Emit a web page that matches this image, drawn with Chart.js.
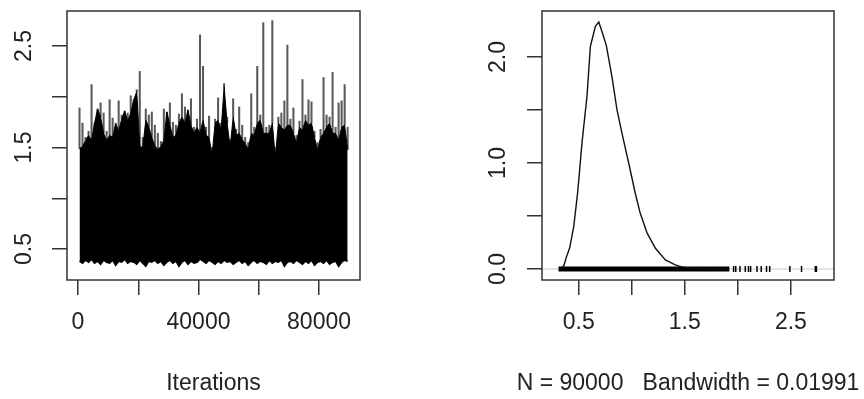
<!DOCTYPE html>
<html>
<head>
<meta charset="utf-8">
<script src="https://cdn.jsdelivr.net/npm/chart.js@4"></script>
<style>
  html, body { margin: 0; padding: 0; background: #fff; }
  .panel { position: absolute; top: 0; width: 432px; height: 399px; }
  #left { left: 0; }
  #right { left: 432px; }
</style>
</head>
<body>
<div class="panel" id="left"><canvas id="traceCanvas"></canvas></div>
<div class="panel" id="right"><canvas id="densCanvas"></canvas></div>
<script>
// trace: one bin per 1000 iterations (90 bins)
const binSize = 1000;
const traceLow = [
  0.38, 0.36, 0.39, 0.37, 0.40, 0.36, 0.38, 0.35, 0.39, 0.37,
  0.36, 0.39, 0.34, 0.38, 0.37, 0.40, 0.36, 0.38, 0.37, 0.35,
  0.39, 0.36, 0.33, 0.38, 0.37, 0.39, 0.36, 0.38, 0.34, 0.37,
  0.39, 0.36, 0.38, 0.33, 0.37, 0.39, 0.35, 0.38, 0.36, 0.37,
  0.40, 0.38, 0.36, 0.39, 0.37, 0.35, 0.38, 0.36, 0.39, 0.37,
  0.38, 0.35, 0.37, 0.39, 0.36, 0.38, 0.34, 0.37, 0.39, 0.36,
  0.38, 0.37, 0.35, 0.39, 0.36, 0.38, 0.37, 0.39, 0.33, 0.37,
  0.38, 0.36, 0.39, 0.37, 0.35, 0.38, 0.36, 0.39, 0.34, 0.37,
  0.38, 0.36, 0.39, 0.35, 0.37, 0.38, 0.33, 0.37, 0.39, 0.38
];
const traceCore = [
  1.49, 1.51, 1.57, 1.62, 1.57, 1.74, 1.88, 1.80, 1.64, 1.57,
  1.62, 1.60, 1.74, 1.66, 1.78, 1.86, 1.76, 1.84, 1.97, 2.05,
  1.51, 1.50, 1.77, 1.70, 1.60, 1.52, 1.48, 1.51, 1.57, 1.85,
  1.72, 1.60, 1.62, 1.74, 1.80, 1.74, 1.87, 1.72, 1.64, 1.70,
  1.64, 1.77, 1.62, 1.60, 1.42, 1.74, 1.77, 1.67, 2.10, 1.74,
  1.50, 1.80, 1.62, 1.64, 1.58, 1.54, 1.48, 1.64, 1.62, 1.74,
  1.77, 1.64, 1.64, 1.64, 1.74, 1.40, 1.74, 1.70, 1.67, 1.72,
  1.72, 1.64, 1.54, 1.70, 1.67, 1.77, 1.72, 1.74, 1.60, 1.47,
  1.60, 1.64, 1.70, 1.74, 1.64, 1.64, 1.57, 1.70, 1.72, 1.48
];
const tracePeak = [
  1.89, 1.74, 1.60, 1.66, 2.12, 1.68, 1.80, 1.94, 1.84, 1.66,
  1.97, 1.79, 1.74, 1.96, 1.82, 1.62, 1.84, 2.01, 1.92, 2.07,
  2.25, 1.60, 1.88, 1.82, 1.85, 1.72, 1.64, 1.56, 1.88, 1.60,
  1.94, 1.75, 1.72, 1.83, 2.03, 1.90, 1.82, 1.98, 1.70, 1.78,
  2.61, 2.30, 1.70, 1.81, 1.50, 1.78, 1.99, 1.74, 2.13, 1.80,
  1.58, 1.98, 1.68, 1.90, 1.72, 1.60, 1.55, 2.03, 1.70, 2.30,
  1.82, 2.73, 1.70, 1.72, 2.75, 1.50, 1.80, 1.84, 1.96, 2.51,
  1.78, 1.89, 1.62, 1.76, 2.17, 1.82, 1.97, 1.95, 1.66, 1.55,
  1.68, 2.19, 1.82, 1.80, 2.24, 1.70, 1.94, 1.96, 2.12, 1.70
];
const iterTicks = [0, 20000, 40000, 60000, 80000];
const iterLabels = [0, 40000, 80000];
const traceYTicks = [0.5, 1.0, 1.5, 2.0, 2.5];
const traceYLabels = [0.5, 1.5, 2.5];

// density panel
const densX = [0.33, 0.36, 0.38, 0.415, 0.453, 0.49, 0.531, 0.578, 0.61, 0.657, 0.689, 0.726,
  0.76, 0.814, 0.861, 0.908, 0.971, 1.034, 1.08, 1.144, 1.223, 1.317, 1.41, 1.47, 1.55, 1.70, 1.90];
const densY = [0, 0.03, 0.10, 0.20, 0.40, 0.72, 1.19, 1.63, 2.10, 2.29, 2.33, 2.22,
  2.11, 1.81, 1.50, 1.28, 1.00, 0.71, 0.525, 0.34, 0.195, 0.085, 0.038, 0.02, 0.008, 0.002, 0];
const rugBand = [0.31, 1.92];
const rugX = [1.96, 1.98, 2.02, 2.07, 2.10, 2.12, 2.18, 2.22, 2.27, 2.30, 2.49, 2.60, 2.73, 2.74];
const densXTicks = [0.5, 1.0, 1.5, 2.0, 2.5];
const densXLabels = [0.5, 1.5, 2.5];
const densYTicks = [0, 0.5, 1.0, 1.5, 2.0];
const densYLabels = [0, 1.0, 2.0];

const FONT = { family: "'Liberation Sans', Arial, sans-serif", size: 23 };
const INK = '#222';

// box round the plot region, R-style rotated y labels and the x title
const rPlot = {
  id: 'rPlot',
  beforeDatasetsDraw(chart, args, opts) {
    if (!opts.zeroLine) return;
    const { ctx, chartArea: a, scales } = chart;
    const y = scales.y.getPixelForValue(0);
    ctx.save();
    ctx.strokeStyle = '#c8c8c8';
    ctx.lineWidth = 1;
    ctx.beginPath();
    ctx.moveTo(a.left, y);
    ctx.lineTo(a.right, y);
    ctx.stroke();
    ctx.restore();
  },
  afterDraw(chart, args, opts) {
    const { ctx, chartArea: a, scales } = chart;
    ctx.save();
    ctx.strokeStyle = '#333';
    ctx.lineWidth = 1.5;
    ctx.strokeRect(a.left, a.top, a.right - a.left, a.bottom - a.top);
    ctx.fillStyle = INK;
    ctx.font = FONT.size + 'px ' + FONT.family;
    ctx.textAlign = 'center';
    ctx.textBaseline = 'middle';
    ctx.fillText(opts.title, (a.left + a.right) / 2, a.bottom + 104);
    opts.labels.forEach(function(v) {
      ctx.save();
      ctx.translate(a.left - opts.offset, scales.y.getPixelForValue(v));
      ctx.rotate(-Math.PI / 2);
      ctx.fillText(v.toFixed(1), 0, 0);
      ctx.restore();
    });
    ctx.restore();
  }
};

function axisGrid() {
  return { drawOnChartArea: false, tickLength: 15, color: '#333', lineWidth: 1.5, offset: false };
}

const bins = traceCore.map((v, i) => (i + 0.5) * binSize);

new Chart(document.getElementById('traceCanvas'), {
  type: 'line',
  data: {
    datasets: [{
      // upper edge of the dense black band, filled down to the low edge
      data: bins.map((x, i) => ({ x: x, y: traceCore[i] })),
      borderColor: '#000',
      borderWidth: 1,
      backgroundColor: '#000',
      pointRadius: 0,
      fill: '+1',
      order: 0
    }, {
      data: bins.map((x, i) => ({ x: x, y: traceLow[i] })),
      borderColor: '#000',
      borderWidth: 1.5,
      pointRadius: 0,
      fill: false,
      order: 1
    }, {
      type: 'bar',
      data: bins.map((x, i) => ({ x: x, y: [traceCore[i], tracePeak[i]] })),
      backgroundColor: '#5a5a5a',
      barThickness: 1.4,
      grouped: false,
      order: 2
    }]
  },
  options: {
    responsive: true,
    maintainAspectRatio: false,
    animation: false,
    devicePixelRatio: 1,
    layout: { padding: { top: 11, right: 72, left: 0, bottom: 0 } },
    plugins: {
      legend: { display: false },
      tooltip: { enabled: false },
      rPlot: { labels: traceYLabels, offset: 42, title: 'Iterations' }
    },
    scales: {
      x: {
        type: 'linear',
        offset: false,
        min: -3650,
        max: 93600,
        afterBuildTicks: s => { s.ticks = iterTicks.map(v => ({ value: v })); },
        afterFit: s => { s.height = 119; },
        grid: axisGrid(),
        border: { display: false },
        ticks: {
          autoSkip: false, maxRotation: 0, font: FONT, color: INK, padding: 14,
          callback: v => iterLabels.includes(v) ? String(v) : ''
        }
      },
      y: {
        min: 0.195,
        max: 2.845,
        afterBuildTicks: s => { s.ticks = traceYTicks.map(v => ({ value: v })); },
        afterFit: s => { s.width = 67; },
        grid: axisGrid(),
        border: { display: false },
        ticks: { display: false }
      }
    }
  },
  plugins: [rPlot]
});

new Chart(document.getElementById('densCanvas'), {
  type: 'line',
  data: {
    datasets: [{
      data: densX.map((x, i) => ({ x: x, y: densY[i] })),
      borderColor: '#111',
      borderWidth: 1.4,
      pointRadius: 0,
      tension: 0
    }, {
      data: rugBand.map(x => ({ x: x, y: 0 })),
      borderColor: '#000',
      borderWidth: 5,
      pointRadius: 0
    }, {
      data: rugX.map(x => ({ x: x, y: 0 })),
      showLine: false,
      pointStyle: 'line',
      rotation: 90,
      pointRadius: 3,
      borderColor: '#000',
      borderWidth: 1.5
    }]
  },
  options: {
    responsive: true,
    maintainAspectRatio: false,
    animation: false,
    devicePixelRatio: 1,
    layout: { padding: { top: 11, right: 30, left: 0, bottom: 0 } },
    plugins: {
      legend: { display: false },
      tooltip: { enabled: false },
      rPlot: { labels: densYLabels, offset: 43, zeroLine: true, title: 'N = 90000   Bandwidth = 0.01991' }
    },
    scales: {
      x: {
        type: 'linear',
        min: 0.154,
        max: 2.906,
        afterBuildTicks: s => { s.ticks = densXTicks.map(v => ({ value: v })); },
        afterFit: s => { s.height = 119; },
        grid: axisGrid(),
        border: { display: false },
        ticks: {
          autoSkip: false, maxRotation: 0, font: FONT, color: INK, padding: 14,
          callback: v => densXLabels.includes(v) ? v.toFixed(1) : ''
        }
      },
      y: {
        min: -0.104,
        max: 2.434,
        afterBuildTicks: s => { s.ticks = densYTicks.map(v => ({ value: v })); },
        afterFit: s => { s.width = 110; },
        grid: axisGrid(),
        border: { display: false },
        ticks: { display: false }
      }
    }
  },
  plugins: [rPlot]
});
</script>
</body>
</html>
